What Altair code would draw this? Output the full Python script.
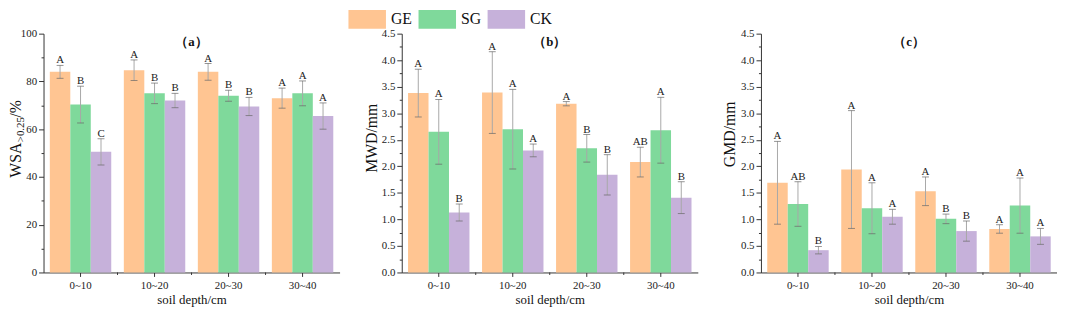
import altair as alt
import pandas as pd

depths = ["0~10", "10~20", "20~30", "30~40"]
groups = ["GE", "SG", "CK"]
colors = ["#FFC592", "#7FD99B", "#C6B1DA"]

# (a) WSA>0.25 / %
wsa_ge = [84.0, 84.7, 84.0, 73.0]
wsa_sg = [70.3, 75.0, 74.0, 75.0]
wsa_ck = [50.5, 72.0, 69.5, 65.5]
wsa_ge_sd = [2.7, 4.3, 3.5, 4.2]
wsa_sg_sd = [7.7, 4.3, 2.3, 5.2]
wsa_ck_sd = [5.5, 3.0, 3.8, 5.5]
wsa_ge_let = ["A", "A", "A", "A"]
wsa_sg_let = ["B", "B", "B", "A"]
wsa_ck_let = ["C", "B", "B", "A"]

# (b) MWD / mm
mwd_ge = [3.38, 3.39, 3.18, 2.08]
mwd_sg = [2.65, 2.70, 2.34, 2.68]
mwd_ck = [1.13, 2.30, 1.84, 1.41]
mwd_ge_sd = [0.45, 0.77, 0.04, 0.28]
mwd_sg_sd = [0.61, 0.75, 0.26, 0.62]
mwd_ck_sd = [0.16, 0.12, 0.38, 0.30]
mwd_ge_let = ["A", "A", "A", "AB"]
mwd_sg_let = ["A", "A", "B", "A"]
mwd_ck_let = ["B", "A", "B", "B"]

# (c) GMD / mm
gmd_ge = [1.69, 1.94, 1.53, 0.82]
gmd_sg = [1.29, 1.21, 1.01, 1.26]
gmd_ck = [0.42, 1.05, 0.78, 0.68]
gmd_ge_sd = [0.78, 1.11, 0.27, 0.08]
gmd_sg_sd = [0.42, 0.48, 0.09, 0.52]
gmd_ck_sd = [0.07, 0.14, 0.19, 0.15]
gmd_ge_let = ["A", "A", "A", "A"]
gmd_sg_let = ["AB", "A", "B", "A"]
gmd_ck_let = ["B", "A", "B", "A"]

FONT = "Liberation Serif"
W, H = 300, 242


def make_df(vals, sds, lets):
    rows = []
    for g, v, s, l in zip(groups, vals, sds, lets):
        for d, m, e, t in zip(depths, v, s, l):
            rows.append(dict(depth=d, group=g, value=m, lo=m - e, hi=m + e, letter=t))
    return pd.DataFrame(rows)


def make_panel(df, ymax, yvals, major_test, fmt, ptitle, ytitle_parts):
    xscale = alt.Scale(paddingInner=0.17, paddingOuter=0.085)
    xaxis = alt.Axis(title="soil depth/cm", labelAngle=0, tickSize=4,
                     labelPadding=3, titlePadding=3,
                     labelFont=FONT, titleFont=FONT, labelFontSize=11,
                     titleFontSize=13, labelColor="#222", titleColor="#111",
                     titleFontWeight="normal", domainColor="#333",
                     tickColor="#333")
    xenc = alt.X("depth:N", sort=depths, scale=xscale, axis=xaxis)
    xo = alt.XOffset("group:N", sort=groups,
                     scale=alt.Scale(paddingInner=0, paddingOuter=0))
    yaxis = alt.Axis(title=None, values=yvals, format=fmt, grid=False,
                     labelExpr=f"({major_test}) ? datum.label : ''",
                     tickSize={"condition": {"test": major_test, "value": 5}, "value": 2.5},
                     labelPadding=2, labelFont=FONT, labelFontSize=11,
                     labelColor="#222", domainColor="#333", tickColor="#333")
    yscale = alt.Scale(domain=[0, ymax], nice=False, zero=True)
    base = alt.Chart(df).encode(x=xenc, xOffset=xo)
    bars = base.mark_bar().encode(
        y=alt.Y("value:Q", scale=yscale, axis=yaxis),
        color=alt.Color("group:N", sort=groups,
                        scale=alt.Scale(domain=groups, range=colors),
                        legend=alt.Legend(orient="none", legendX=309, legendY=-24,
                                          direction="horizontal", columns=3, title=None,
                                          symbolType="M-1,-1H3V1H-1Z", symbolSize=361,
                                          symbolStrokeWidth=0, labelFont=FONT,
                                          labelFontSize=16, labelColor="#111",
                                          labelOffset=24, columnPadding=6, padding=0)))
    rules = base.mark_rule(color="#a8a8a8", strokeWidth=1).encode(
        y=alt.Y("lo:Q", scale=yscale, axis=yaxis), y2="hi:Q")
    cap_hi = base.mark_tick(color="#666", thickness=1, size=7, orient="horizontal").encode(
        y=alt.Y("hi:Q", scale=yscale, axis=yaxis))
    cap_lo = base.mark_tick(color="#666", thickness=1, size=7, orient="horizontal").encode(
        y=alt.Y("lo:Q", scale=yscale, axis=yaxis))
    lets = base.mark_text(font=FONT, fontSize=11, color="#222", baseline="alphabetic",
                          dy=-2).encode(
        y=alt.Y("hi:Q", scale=yscale, axis=yaxis), text="letter:N")
    # minor x ticks between depth groups
    minor = alt.Chart(pd.DataFrame({"depth": depths[1:]})).mark_rule(
        color="#333", strokeWidth=1, xOffset=-6.4).encode(
        x=alt.X("depth:N", sort=depths, scale=xscale, axis=xaxis, bandPosition=0),
        y=alt.value(H), y2=alt.value(H + 2.5))
    title = alt.Chart(pd.DataFrame({"t": [ptitle]})).mark_text(
        font=FONT, fontSize=13, fontWeight="bold", color="#111", baseline="middle").encode(
        x=alt.value(W / 2), y=alt.value(8), text="t:N")
    layers = [bars, rules, cap_hi, cap_lo, lets, minor, title]
    for txt, size, xpos, ypos, align in ytitle_parts:
        layers.append(alt.Chart(pd.DataFrame({"t": [txt]})).mark_text(
            font=FONT, fontSize=size, angle=270, align=align, baseline="alphabetic",
            color="#111").encode(x=alt.value(xpos), y=alt.value(ypos), text="t:N"))
    return alt.layer(*layers).properties(width=W, height=H)


def ticks(step, n):
    return [round(i * step, 4) for i in range(n + 1)]


pa = make_panel(make_df([wsa_ge, wsa_sg, wsa_ck], [wsa_ge_sd, wsa_sg_sd, wsa_ck_sd],
                        [wsa_ge_let, wsa_sg_let, wsa_ck_let]),
                100, ticks(10, 10), "datum.value % 20 == 0", "d", "（a）",
                [("WSA", 16, -23, 146, "left"), (">0.25", 11, -20, 110, "left"),
                 ("/%", 16, -23, 85, "left")])
pb = make_panel(make_df([mwd_ge, mwd_sg, mwd_ck], [mwd_ge_sd, mwd_sg_sd, mwd_ck_sd],
                        [mwd_ge_let, mwd_sg_let, mwd_ck_let]),
                4.5, ticks(0.25, 18), "round(datum.value * 4) % 2 == 0", ".1f", "（b）",
                [("MWD/mm", 16, -25, 106, "center")])
pc = make_panel(make_df([gmd_ge, gmd_sg, gmd_ck], [gmd_ge_sd, gmd_sg_sd, gmd_ck_sd],
                        [gmd_ge_let, gmd_sg_let, gmd_ck_let]),
                4.5, ticks(0.25, 18), "round(datum.value * 4) % 2 == 0", ".1f", "（c）",
                [("GMD/mm", 16, -26, 102, "center")])

chart = alt.hconcat(pa, pb, pc, spacing=25).properties(
    padding={"left": 0, "top": 0, "right": 0, "bottom": 0}
).configure_view(stroke=None).configure_axis(
    labelFont=FONT, titleFont=FONT, domainWidth=1
)

chart.save("out.html", embed_options={"renderer": "svg", "actions": False})
